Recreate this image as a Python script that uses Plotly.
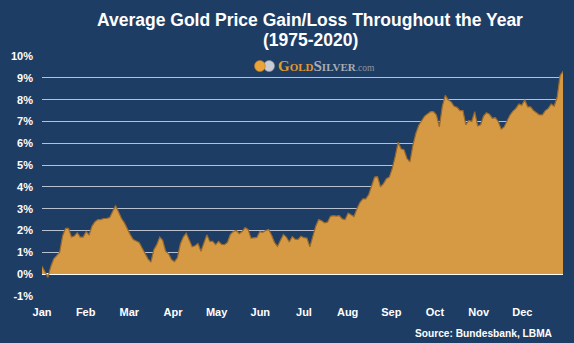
import plotly.graph_objects as go

# Average cumulative gold price change through the calendar year, 1975-2020 (%)
avg_gain_pct = [
    0.36, 0.10, -0.15, 0.35, 0.70, 0.85, 1.00, 1.75, 2.10, 2.10,
    1.70, 1.75, 1.90, 1.70, 1.70, 1.95, 1.80, 2.20, 2.40, 2.50,
    2.50, 2.55, 2.55, 2.60, 2.90, 3.15, 2.85, 2.55, 2.35, 2.05,
    1.80, 1.58, 1.53, 1.45, 1.20, 0.92, 0.70, 0.55, 1.12, 1.35,
    1.70, 1.55, 1.05, 0.93, 0.67, 0.57, 0.75, 1.38, 1.70, 1.88,
    1.60, 1.25, 1.30, 1.40, 1.05, 1.40, 1.80, 1.50, 1.50, 1.35,
    1.50, 1.36, 1.35, 1.45, 1.82, 1.95, 2.00, 1.85, 1.95, 2.13,
    2.05, 1.65, 1.67, 1.68, 1.95, 1.92, 2.00, 2.05, 1.78, 1.45,
    1.27, 1.55, 1.82, 1.70, 1.47, 1.72, 1.60, 1.59, 1.74, 1.67,
    1.65, 1.25, 1.75, 2.20, 2.50, 2.45, 2.35, 2.38, 2.65, 2.68,
    2.66, 2.68, 2.53, 2.50, 2.80, 2.70, 2.64, 3.00, 3.28, 3.45,
    3.45, 3.65, 4.06, 4.45, 4.47, 4.00, 4.15, 4.38, 4.45, 4.85,
    5.40, 6.05, 5.75, 5.70, 5.30, 5.15, 5.90, 6.45, 6.83, 7.03,
    7.25, 7.35, 7.45, 7.45, 7.30, 6.75, 7.70, 8.20, 8.00, 7.90,
    7.70, 7.65, 7.50, 7.50, 6.85, 7.05, 7.00, 7.45, 6.80, 6.85,
    7.25, 7.40, 7.33, 7.15, 7.18, 7.00, 6.65, 6.75, 7.05, 7.30,
    7.48, 7.60, 7.80, 7.75, 8.00, 7.67, 7.67, 7.50, 7.40, 7.30,
    7.30, 7.50, 7.60, 7.80, 7.70, 8.10, 9.10, 9.30,
]
months = ["Jan", "Feb", "Mar", "Apr", "May", "Jun",
          "Jul", "Aug", "Sep", "Oct", "Nov", "Dec"]
y_ticks = list(range(-1, 11))
y_tick_labels = [f"{v}%" for v in y_ticks]

n = len(avg_gain_pct)
x = list(range(n))
month_pos = [k * n / 12 for k in range(12)]

BG = "#1E3D65"
GRID = "#B7C1D1"
SANS = "Liberation Sans"
SERIF = "Liberation Serif"

fig = go.Figure(
    go.Scatter(
        x=x,
        y=avg_gain_pct,
        mode="lines",
        fill="tozeroy",
        fillcolor="#D69A45",
        line=dict(color="#9A6A2C", width=1.2),
        hoverinfo="skip",
    )
)

fig.update_layout(
    width=574,
    height=343,
    margin=dict(l=32, r=11, t=56, b=47),
    paper_bgcolor=BG,
    plot_bgcolor=BG,
    showlegend=False,
    xaxis=dict(
        range=[0, n - 1],
        tickmode="array",
        tickvals=month_pos,
        ticktext=months,
        showgrid=False,
        zeroline=False,
        showline=False,
        ticks="",
        ticklabelstandoff=8,
        tickfont=dict(family=SANS, size=11, color="white", weight="bold"),
    ),
    yaxis=dict(
        range=[-1.005, 10.005],
        tickmode="array",
        tickvals=y_ticks,
        ticktext=y_tick_labels,
        showgrid=True,
        gridcolor=GRID,
        gridwidth=1,
        zeroline=True,
        zerolinecolor="white",
        zerolinewidth=2,
        showline=False,
        ticks="",
        ticklabelstandoff=8,
        tickfont=dict(family=SANS, size=11, color="white", weight="bold"),
    ),
)

title_font = dict(family=SANS, size=17.5, color="white", weight="bold")
fig.add_annotation(
    text="Average Gold Price Gain/Loss Throughout the Year",
    xref="paper", yref="paper", x=0.515, y=1.152,
    xanchor="center", yanchor="middle", showarrow=False, font=title_font,
)
fig.add_annotation(
    text="(1975-2020)",
    xref="paper", yref="paper", x=0.515, y=1.068,
    xanchor="center", yanchor="middle", showarrow=False, font=title_font,
)

# GoldSilver.com logo: two overlapping coins and small-caps wordmark
fig.add_shape(type="circle", xref="paper", yref="paper",
              x0=0.4256, x1=0.4463, y0=0.9354, y1=0.9813,
              fillcolor="#C9CDD3", line=dict(color="#8F949B", width=0.6))
fig.add_shape(type="circle", xref="paper", yref="paper",
              x0=0.4079, x1=0.4286, y0=0.9354, y1=0.9813,
              fillcolor="#E9A43A", line=dict(color="#B87A22", width=0.6))
gold_c = "#E39A2C"
silver_c = "#A9ADB3"
logo = (
    f"<b><span style='font-size:15px;color:{gold_c}'>G</span>"
    f"<span style='font-size:11px;color:{gold_c}'>OLD</span>"
    f"<span style='font-size:15px;color:{silver_c}'>S</span>"
    f"<span style='font-size:11px;color:{silver_c}'>ILVER</span></b>"
    f"<span style='font-size:9.5px;color:#8E949C'>.com</span>"
)
fig.add_annotation(
    text=logo, xref="paper", yref="paper", x=0.449, y=0.958,
    xanchor="left", yanchor="middle", showarrow=False,
    font=dict(family=SERIF, size=11, color=gold_c),
)

fig.add_annotation(
    text="Source: Bundesbank, LBMA",
    xref="paper", yref="paper", x=0.985, y=-0.158,
    xanchor="right", yanchor="middle", showarrow=False,
    font=dict(family=SANS, size=10.2, color="white", weight="bold"),
)

fig.write_html("out.html")
